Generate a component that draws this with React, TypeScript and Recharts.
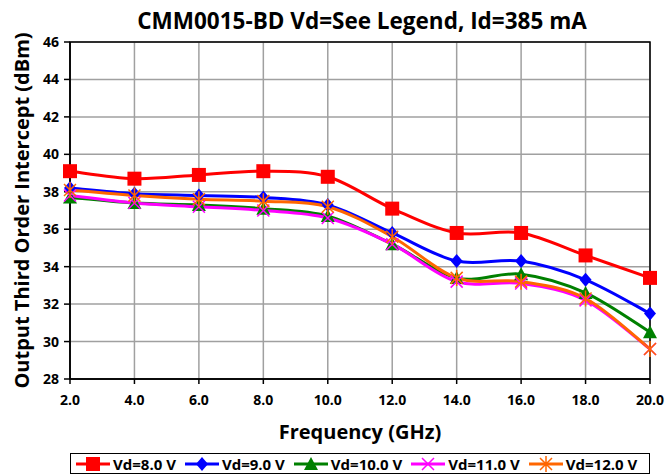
import React from 'react'
import { CartesianGrid, Label, Line, LineChart, ReferenceArea, XAxis, YAxis } from 'recharts'

const freqs = [2, 4, 6, 8, 10, 12, 14, 16, 18, 20]
const vd8 = [39.1, 38.7, 38.9, 39.1, 38.8, 37.1, 35.8, 35.8, 34.6, 33.4]
const vd9 = [38.2, 37.9, 37.8, 37.7, 37.3, 35.8, 34.3, 34.3, 33.3, 31.5]
const vd10 = [37.7, 37.4, 37.3, 37.1, 36.7, 35.2, 33.4, 33.6, 32.6, 30.5]
const vd11 = [37.8, 37.4, 37.2, 37.0, 36.6, 35.2, 33.2, 33.1, 32.2, 29.6]
const vd12 = [38.1, 37.8, 37.6, 37.5, 37.2, 35.6, 33.4, 33.2, 32.3, 29.6]
const xTicks = [2, 4, 6, 8, 10, 12, 14, 16, 18, 20]
const yTicks = [28, 30, 32, 34, 36, 38, 40, 42, 44, 46]

const series = [
  { key: 'vd8', name: 'Vd=8.0 V', color: '#ff0000', shape: 'square' },
  { key: 'vd9', name: 'Vd=9.0 V', color: '#0000ff', shape: 'diamond' },
  { key: 'vd10', name: 'Vd=10.0 V', color: '#008000', shape: 'triangle' },
  { key: 'vd11', name: 'Vd=11.0 V', color: '#ff00ff', shape: 'x' },
  { key: 'vd12', name: 'Vd=12.0 V', color: '#ff6600', shape: 'star' },
]

const data = freqs.map((f, i) => ({
  f,
  vd8: vd8[i],
  vd9: vd9[i],
  vd10: vd10[i],
  vd11: vd11[i],
  vd12: vd12[i],
}))

const font = '"Open Sans", sans-serif'

// excel-like smoothed line (catmull-rom through the points)
function smoothCurve(context: any) {
  let pts: number[][] = []
  return {
    areaStart() {},
    areaEnd() {},
    lineStart() {
      pts = []
    },
    lineEnd() {
      if (!pts.length) return
      context.moveTo(pts[0][0], pts[0][1])
      for (let i = 0; i < pts.length - 1; i++) {
        const p0 = pts[i - 1] || pts[i]
        const p1 = pts[i]
        const p2 = pts[i + 1]
        const p3 = pts[i + 2] || pts[i + 1]
        const t = 1 / 6
        context.bezierCurveTo(
          p1[0] + (p2[0] - p0[0]) * t,
          p1[1] + (p2[1] - p0[1]) * t,
          p2[0] - (p3[0] - p1[0]) * t,
          p2[1] - (p3[1] - p1[1]) * t,
          p2[0],
          p2[1]
        )
      }
    },
    point(x: number, y: number) {
      pts.push([+x, +y])
    },
  }
}

function Marker({ shape, color, cx, cy }: { shape: string; color: string; cx: number; cy: number }) {
  if (shape === 'square') return <rect x={cx - 7} y={cy - 7} width={14} height={14} fill={color} />
  if (shape === 'diamond')
    return <path d={`M${cx},${cy - 7}L${cx + 6},${cy}L${cx},${cy + 7}L${cx - 6},${cy}Z`} fill={color} />
  if (shape === 'triangle')
    return <path d={`M${cx},${cy - 7}L${cx + 7},${cy + 6}L${cx - 7},${cy + 6}Z`} fill={color} />
  if (shape === 'x')
    return (
      <path d={`M${cx - 6},${cy - 6}L${cx + 6},${cy + 6}M${cx - 6},${cy + 6}L${cx + 6},${cy - 6}`} stroke={color} strokeWidth={1.5} />
    )
  return (
    <path
      d={`M${cx - 6},${cy - 6}L${cx + 6},${cy + 6}M${cx - 6},${cy + 6}L${cx + 6},${cy - 6}M${cx},${cy - 8}L${cx},${cy + 8}`}
      stroke={color}
      strokeWidth={1.5}
    />
  )
}

function LegendBox() {
  return (
    <div
      style={{
        position: 'absolute',
        left: 70,
        top: 453,
        width: 580,
        border: '1px solid #000',
        display: 'flex',
        alignItems: 'center',
        height: 21,
        padding: '0 0 0 4px',
        fontFamily: font,
        fontWeight: 700,
        fontSize: 15,
        background: '#fff',
        boxSizing: 'border-box',
        whiteSpace: 'nowrap',
      }}
    >
      {series.map((s) => (
        <div key={s.key} style={{ display: 'flex', alignItems: 'center', marginRight: 8 }}>
          <svg width={36} height={16}>
            <line x1={1} y1={8} x2={35} y2={8} stroke={s.color} strokeWidth={3} />
            <Marker shape={s.shape} color={s.color} cx={18} cy={8} />
          </svg>
          <span style={{ marginLeft: 2 }}>{s.name}</span>
        </div>
      ))}
    </div>
  )
}

export default function App() {
  return (
    <div style={{ position: 'absolute', left: 0, top: 0, width: 672, height: 475, background: '#fff' }}>
      <div
        style={{
          position: 'absolute',
          top: 6,
          left: 72,
          width: 580,
          textAlign: 'center',
          fontFamily: font,
          fontWeight: 700,
          fontSize: 22.5,
          lineHeight: '30px',
        }}
      >
        CMM0015-BD Vd=See Legend, Id=385 mA
      </div>
      <LineChart width={672} height={475} data={data} margin={{ top: 42, right: 22, left: 0, bottom: 0 }}>
        <CartesianGrid stroke="#a0a0a0" strokeWidth={1.5} />
        <ReferenceArea x1={2} x2={20} y1={28} y2={46} fill="none" stroke="#000" strokeWidth={1.5} ifOverflow="visible" />
        <XAxis
          dataKey="f"
          type="number"
          domain={[2, 20]}
          ticks={xTicks}
          tickFormatter={(v) => v.toFixed(1)}
          tick={{ fontSize: 14, fontWeight: 700, fill: '#000', fontFamily: font }}
          tickSize={5}
          stroke="#000"
          strokeWidth={1.5}
          height={96}
          tickMargin={11}
        >
          <Label
            value="Frequency (GHz)"
            position="insideBottom"
            offset={36}
            style={{ fontSize: 20, fontWeight: 700, fill: '#000', fontFamily: font }}
          />
        </XAxis>
        <YAxis
          type="number"
          domain={[28, 46]}
          ticks={yTicks}
          tick={{ fontSize: 14, fontWeight: 700, fill: '#000', fontFamily: font }}
          tickSize={6}
          tickMargin={5}
          stroke="#000"
          strokeWidth={1.5}
          width={70}
          interval={0}
        >
          <Label
            value="Output Third Order Intercept (dBm)"
            angle={-90}
            position="insideLeft"
            offset={22}
            style={{ fontSize: 20, fontWeight: 700, fill: '#000', fontFamily: font, textAnchor: 'middle' }}
          />
        </YAxis>
        {series.map((s) => (
          <Line
            key={s.key}
            dataKey={s.key}
            name={s.name}
            type={smoothCurve as any}
            stroke={s.color}
            strokeWidth={3}
            isAnimationActive={false}
            dot={(p: any) => <Marker key={`${s.key}-${p.index}`} shape={s.shape} color={s.color} cx={p.cx} cy={p.cy} />}
            activeDot={false}
          />
        ))}
      </LineChart>
      <LegendBox />
    </div>
  )
}
